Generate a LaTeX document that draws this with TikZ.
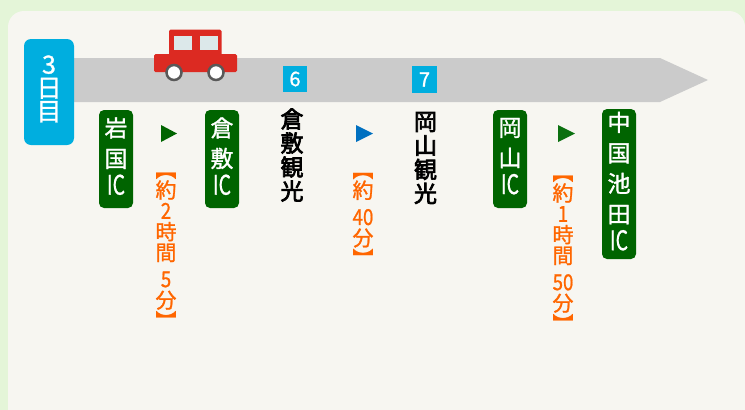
\documentclass[tikz,border=0pt]{standalone}
\usepackage{fontspec}
\setmainfont{Noto Sans CJK JP}
\newfontfamily\medfont[FakeBold=1.2]{Noto Sans CJK JP}
\newfontfamily\heavyfont[FakeBold=3]{Noto Sans CJK JP}
\newfontfamily\icfont[FakeStretch=0.72,FakeBold=0.8]{Noto Sans CJK JP}
\newfontfamily\digfont[FakeStretch=0.85,FakeBold=0.8]{Noto Sans CJK JP}
\definecolor{pagegreen}{HTML}{E4F5D8}
\definecolor{panelgray}{HTML}{F7F6F1}
\definecolor{roadgray}{HTML}{CBCBCB}
\definecolor{dayblue}{HTML}{00AEDF}
\definecolor{icgreen}{HTML}{006400}
\definecolor{trigreen}{HTML}{0B7010}
\definecolor{triblue}{HTML}{0070C0}
\definecolor{timeorange}{HTML}{FF6600}
\definecolor{carred}{HTML}{DC2A22}
\definecolor{carglass}{HTML}{DCE8EA}
\lineskiplimit=-100pt
\newcommand{\topbr}{\rotatebox[origin=c]{-90}{【}}
\newcommand{\botbr}{\rotatebox[origin=c]{-90}{】}}
\newcommand{\icname}{{\fontsize{27}{27}\selectfont\icfont IC}}
\newcommand{\dg}[1]{{\fontsize{22}{22}\selectfont\digfont #1}}
\begin{document}
\begin{tikzpicture}[x=1pt,y=-1pt,
  icbox/.style={fill=icgreen,rounded corners=5pt,text=white,inner sep=0pt,minimum width=34pt,text depth=6pt,align=center,font=\fontsize{23}{30.5}\selectfont\medfont},
  spot/.style={align=center,font=\fontsize{23}{24}\selectfont\heavyfont},
  timetext/.style={text=timeorange,align=center,font=\fontsize{21}{20.8}\selectfont\medfont},
  numbox/.style={fill=dayblue,text=white,inner sep=0pt,minimum width=24.5pt,minimum height=26.5pt,font=\fontsize{20}{20}\selectfont\medfont}]
\useasboundingbox (0,0) rectangle (745,410);
\fill[pagegreen] (0,0) rectangle (745,410);
\fill[panelgray,rounded corners=16pt] (8,11) rectangle (745,440);
\fill[roadgray] (74,58) -- (660,58) -- (708,80) -- (660,102) -- (74,102) -- cycle;
\node [fill=dayblue,rounded corners=7pt,text=white,inner sep=0pt,minimum width=50pt,minimum height=106pt,text depth=8pt,align=center,font=\fontsize{25}{23.5}\selectfont\medfont, name=day] at (49,92) {3\\日\\目};
%car
\fill[carred,rounded corners=1.5pt] (169,29.5) rectangle (221.5,60);
\fill[carred,rounded corners=1.5pt] (154,54) rectangle (237,72);
\fill[carglass] (173.5,36) rectangle (192,49.5);
\fill[carglass] (199.5,36) rectangle (218,49.5);
\draw[line width=2.5pt,black!65,fill=white] (174,72.5) circle (7.5pt);
\draw[line width=2.5pt,black!65,fill=white] (216,72.5) circle (7.5pt);
\node [numbox, name=n6] at (295,79) {6};
\node [numbox, name=n7] at (424.5,79.5) {7};
\node [icbox, minimum height=98pt, name=ic1] at (116,159) {岩\\国\\[-3pt]\icname};
\node [icbox, minimum height=98pt, name=ic2] at (222,159) {倉\\敷\\[-3pt]\icname};
\node [icbox, minimum height=98pt, name=ic3] at (510,159) {岡\\山\\[-3pt]\icname};
\node [icbox, minimum height=150pt, name=ic4] at (619,184) {中\\国\\池\\田\\[-3pt]\icname};
\node [spot, name=s1] at (292,155) {倉\\敷\\観\\光};
\node [spot, name=s2] at (425.5,158) {岡\\山\\観\\光};
\fill[icgreen] (161,125) -- (177,133.5) -- (161,142) -- cycle;
\fill[triblue] (356,125) -- (373,133.5) -- (356,142) -- cycle;
\fill[trigreen] (558,125) -- (575,133.5) -- (558,142) -- cycle;
\node [timetext, name=d1] at (166,245) {\topbr\\約\\\dg{2}\\時\\間\\[6pt]\dg{5}\\分\\\botbr};
\node [timetext, name=d2] at (363,214) {\topbr\\約\\[6pt]\dg{40}\\分\\\botbr};
\node [timetext, name=d3] at (563,248) {\topbr\\約\\\dg{1}\\時\\間\\[6pt]\dg{50}\\分\\\botbr};
\end{tikzpicture}
\end{document}
